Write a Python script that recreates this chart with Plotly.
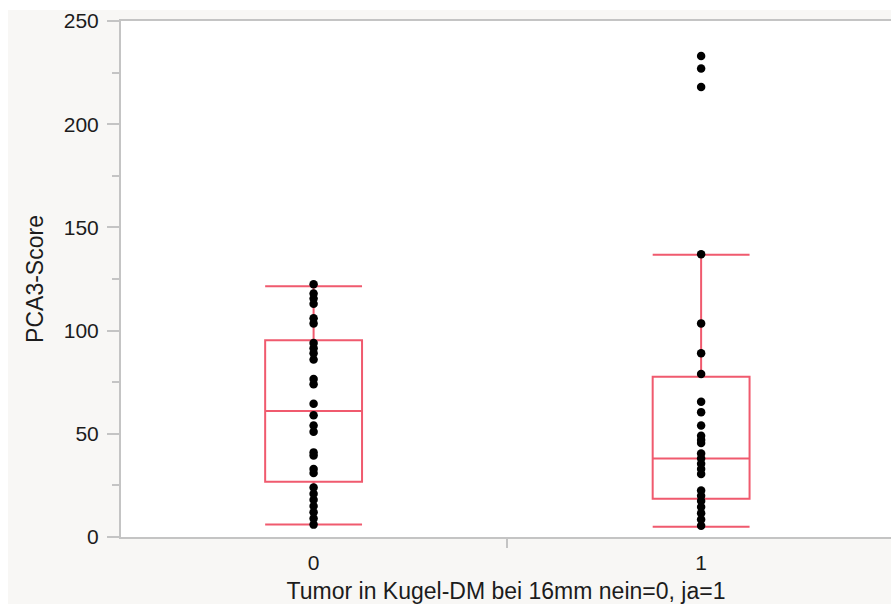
import plotly.graph_objects as go

# ---- data ----
groups = [0, 1]
group_labels = ["0", "1"]

q1_vals = [26.8, 18.5]
median_vals = [61.0, 38.0]
q3_vals = [95.3, 77.7]
lower_fences = [6.0, 5.0]
upper_fences = [121.5, 136.8]

points_g0 = [122.5, 118, 115.5, 113, 106, 103.5, 94, 91.5, 89, 86, 76.5, 74,
             64.6, 59, 54, 51, 41, 39.5, 33, 31, 24, 21, 18, 15, 12, 9, 6]
points_g1 = [233, 227, 218, 137, 103.5, 89, 79, 65.5, 60.5, 54, 49, 47, 45.5,
             40.5, 38, 35.5, 33, 30.5, 22.5, 20, 17.5, 14.5, 11.5, 8.5, 5.5]

y_ticks = [0, 50, 100, 150, 200, 250]

BOX_COLOR = "#f05a6e"
AXIS_GRAY = "#c4c4c4"
TEXT = "#1c1c1c"
FONT = "Liberation Sans, Arial, sans-serif"

fig = go.Figure()

for g, q1, md, q3, lf, uf in zip(groups, q1_vals, median_vals, q3_vals, lower_fences, upper_fences):
    fig.add_trace(go.Box(
        x=[g], q1=[q1], median=[md], q3=[q3], lowerfence=[lf], upperfence=[uf],
        boxpoints=False, width=0.25, whiskerwidth=1,
        line=dict(color=BOX_COLOR, width=2), fillcolor="rgba(0,0,0,0)",
        showlegend=False, hoverinfo="skip",
    ))

for g, pts in zip(groups, [points_g0, points_g1]):
    fig.add_trace(go.Scatter(
        x=[g] * len(pts), y=pts, mode="markers",
        marker=dict(color="black", size=8.5),
        showlegend=False,
    ))

L, R, T, B = 121, 0, 21, 67
W, H = 891, 604
pw, ph = W - L - R, H - T - B

def px_x(p):
    return (p - L) / pw

def px_y(p):
    return (H - B - p) / ph

fig.update_layout(
    width=W, height=H,
    margin=dict(l=L, r=R, t=T, b=B, pad=0),
    paper_bgcolor="#f8f7f5",
    plot_bgcolor="white",
    font=dict(family=FONT, color=TEXT, size=21),
    shapes=[
        dict(type="rect", xref="paper", yref="paper", layer="below",
             x0=px_x(0), x1=px_x(W), y0=px_y(10), y1=px_y(0),
             fillcolor="white", line=dict(width=0)),
        dict(type="rect", xref="paper", yref="paper", layer="below",
             x0=px_x(0), x1=px_x(8), y0=px_y(H), y1=px_y(0),
             fillcolor="white", line=dict(width=0)),
    ],
    xaxis=dict(
        range=[-0.497, 1.490],
        tickmode="array", tickvals=groups, ticktext=group_labels,
        ticks="", showgrid=False, zeroline=False,
        showline=True, linecolor=AXIS_GRAY, linewidth=2, mirror=True,
        tickfont=dict(size=21, color=TEXT),
        minor=dict(tickmode="array", tickvals=[0.5], ticks="outside",
                   ticklen=9, tickcolor=AXIS_GRAY, tickwidth=1.5, showgrid=False),
        title=dict(text="Tumor in Kugel-DM bei 16mm nein=0, ja=1",
                   font=dict(size=23, color=TEXT), standoff=10),
        ticklabelstandoff=6,
    ),
    yaxis=dict(
        range=[0, 250],
        tickmode="array", tickvals=y_ticks,
        ticks="outside", ticklen=12, tickcolor=AXIS_GRAY, tickwidth=1.5,
        showgrid=False, zeroline=False,
        showline=True, linecolor=AXIS_GRAY, linewidth=2,
        tickfont=dict(size=21, color=TEXT),
        minor=dict(tickmode="linear", tick0=25, dtick=50, ticks="outside",
                   ticklen=7, tickcolor=AXIS_GRAY, tickwidth=1.5, showgrid=False),
        title=dict(text="PCA3-Score", font=dict(size=23, color=TEXT), standoff=14),
        ticklabelstandoff=4,
    ),
)

fig.write_html("out.html")
